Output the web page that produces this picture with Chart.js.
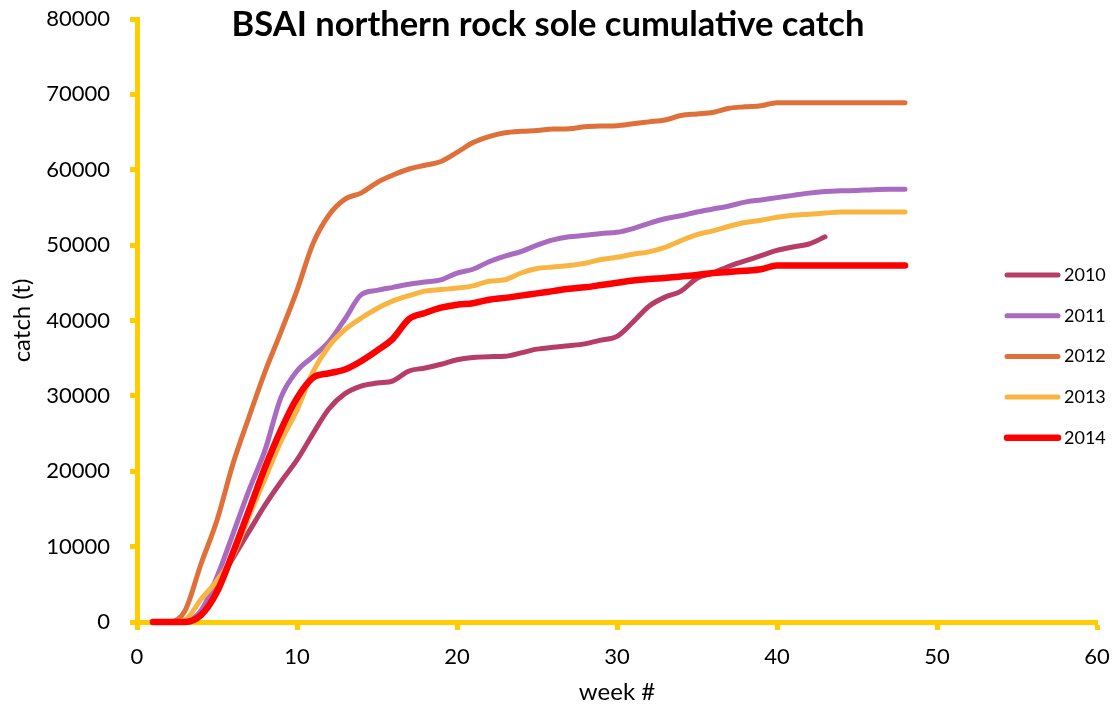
<!DOCTYPE html>
<html>
<head>
<meta charset="utf-8">
<script src="https://cdn.jsdelivr.net/npm/chart.js@4"></script>
<style>
  body { margin: 0; background: #fff; }
</style>
</head>
<body>
<canvas id="catchChart" width="1114" height="710"></canvas>
<script>
const chartTitle = "BSAI northern rock sole cumulative catch";
const years = ["2010", "2011", "2012", "2013", "2014"];
const weeks = [1,2,3,4,5,6,7,8,9,10,11,12,13,14,15,16,17,18,19,20,21,22,23,24,25,26,27,28,29,30,31,32,33,34,35,36,37,38,39,40,41,42,43,44,45,46,47,48];

const catch2010 = [0,0,0,1200,5000,8500,12000,15500,18600,21500,25000,28300,30300,31300,31700,32000,33300,33700,34200,34800,35100,35200,35250,35700,36200,36450,36650,36900,37400,37900,39800,41900,43100,43900,45600,46300,47200,47900,48600,49300,49750,50150,51100];
const catch2011 = [0,0,100,1500,6000,11700,17500,22800,29800,33300,35200,37200,40200,43400,44000,44400,44800,45100,45400,46300,46800,47800,48550,49150,50000,50700,51100,51300,51550,51700,52200,52900,53500,53900,54400,54800,55200,55700,56000,56300,56600,56900,57100,57200,57250,57350,57400,57400];
const catch2012 = [0,0,1500,7700,13500,21000,27200,33200,38500,44000,50200,54000,56100,56900,58300,59300,60100,60600,61100,62300,63600,64400,64900,65100,65200,65400,65450,65700,65800,65850,66100,66350,66600,67200,67400,67600,68150,68350,68500,68900,68900,68900,68900,68900,68900,68900,68900,68900];
const catch2013 = [0,0,300,3000,5500,8800,14000,19000,24000,28100,33200,36600,38800,40300,41600,42600,43300,43900,44100,44300,44600,45200,45400,46300,46900,47100,47300,47600,48100,48400,48800,49100,49700,50600,51400,51900,52500,53000,53300,53700,53950,54100,54250,54400,54400,54400,54400,54400];
const catch2014 = [0,0,0,900,4000,9200,14800,20500,25500,29700,32400,33000,33500,34600,36000,37600,40200,41000,41700,42100,42300,42750,43000,43300,43600,43900,44200,44400,44700,45000,45300,45500,45650,45850,46050,46300,46450,46600,46800,47300,47300,47300,47300,47300,47300,47300,47300,47300];

const seriesValues = [catch2010, catch2011, catch2012, catch2013, catch2014];
const lineColors = ["#B83D66", "#A96BC0", "#E0703A", "#F9B541", "#FF0000"];
const lineWidths = [5, 5, 5, 5, 6.5];

const axisColor = "#FFCC00";
const fontName = "Lato";

// title and legend sit inside the plot, so they are painted after the chart
const overlayPlugin = {
  id: "overlay",
  afterDraw(chart) {
    let ctx = chart.ctx;
    ctx.save();
    ctx.fillStyle = "#000";
    ctx.textBaseline = "middle";
    ctx.textAlign = "center";
    ctx.font = "bold 34.5px " + fontName;
    ctx.fillText(chartTitle, 548, 25);

    ctx.textAlign = "left";
    ctx.font = "18px " + fontName;
    chart.data.datasets.forEach(function (ds, i) {
      let y = 275 + i * 40.7;
      ctx.strokeStyle = ds.borderColor;
      ctx.lineWidth = ds.borderWidth;
      ctx.lineCap = "round";
      ctx.beginPath();
      ctx.moveTo(1007, y);
      ctx.lineTo(1058, y);
      ctx.stroke();
      ctx.fillText(ds.label, 1064, y);
    });
    ctx.restore();
  }
};

let datasets = years.map(function (yr, i) {
  return {
    label: yr,
    data: seriesValues[i].map(function (v, j) { return { x: weeks[j], y: v }; }),
    borderColor: lineColors[i],
    backgroundColor: lineColors[i],
    borderWidth: lineWidths[i],
    pointRadius: 0,
    cubicInterpolationMode: "monotone",
    borderCapStyle: "round",
    borderJoinStyle: "round",
    clip: false,
    order: years.length - i
  };
});

new Chart(document.getElementById("catchChart").getContext("2d"), {
  type: "line",
  data: { datasets: datasets },
  plugins: [overlayPlugin],
  options: {
    responsive: false,
    animation: false,
    layout: { padding: { top: 19, right: 17, left: 0, bottom: 0 } },
    plugins: {
      legend: { display: false },
      tooltip: { enabled: false }
    },
    scales: {
      x: {
        type: "linear",
        min: 0,
        max: 60,
        ticks: { stepSize: 10, color: "#000", font: { family: fontName, size: 22 }, padding: 14,
                 callback: function (v) { return String(v); } },
        grid: { drawOnChartArea: false, drawTicks: true, tickLength: 8, tickWidth: 5, tickColor: axisColor },
        border: { display: true, color: axisColor, width: 5 },
        title: { display: true, text: "week #", color: "#000", font: { family: fontName, size: 24 }, padding: { top: 0, bottom: 3 } },
        afterFit: function (s) { s.height = 88; s.paddingLeft = 0; s.paddingRight = 0; }
      },
      y: {
        min: 0,
        max: 80000,
        ticks: { stepSize: 10000, color: "#000", font: { family: fontName, size: 22 }, padding: 20,
                 callback: function (v) { return String(v); } },
        grid: { drawOnChartArea: false, drawTicks: true, tickLength: 7, tickWidth: 5, tickColor: axisColor },
        border: { display: true, color: axisColor, width: 5 },
        title: { display: true, text: "catch (t)", color: "#000", font: { family: fontName, size: 24 }, padding: { top: 8, bottom: 0 } },
        afterFit: function (s) { s.width = 137; s.paddingTop = 0; s.paddingBottom = 0; }
      }
    }
  }
});
</script>
</body>
</html>
